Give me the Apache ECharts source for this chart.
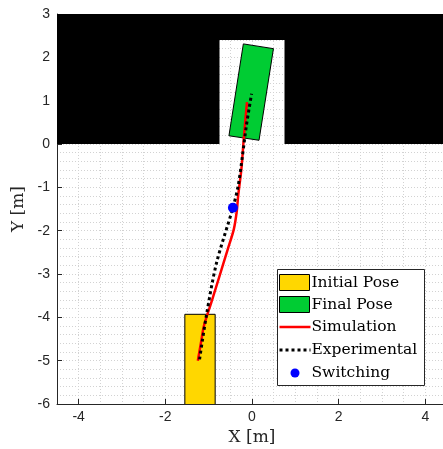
<!DOCTYPE html>
<html lang="en">
<head>
    <meta charset="UTF-8">
    <title>Trajectory</title>
    <script src="https://cdn.jsdelivr.net/npm/echarts@6.0.0/dist/echarts.min.js"></script>
    <style>
        html, body { margin: 0; padding: 0; background: #fff; }
    </style>
</head>
<body>
<div id="main" style="width:443px;height:449px;"></div>
    <script>

        // tick labels
        var xTicks = [-4, -2, 0, 2, 4];

        // obstacle (black area) outline
        var obstacle = [[-4.5, 0], [-0.75, 0], [-0.75, 2.4], [0.75, 2.4], [0.75, 0], [4.5, 0], [4.5, 3], [-4.5, 3]];

        // robot footprints
        var initialPose = [[-1.55, -3.93], [-0.85, -3.93], [-0.85, -6.08], [-1.55, -6.08]];
        var finalPose = [[-0.2, 2.31], [0.495, 2.2], [0.162, 0.086], [-0.532, 0.19]];

        // paths
        var simulation = [[-1.25, -5.0], [-1.18, -4.6], [-1.11, -4.2], [-0.94, -3.66], [-0.75, -3.05],
            [-0.56, -2.43], [-0.42, -1.97], [-0.35, -1.54], [-0.32, -1.2], [-0.245, -0.58],
            [-0.185, 0.19], [-0.115, 0.965]];
        var experimental = [[-1.21, -4.97], [-1.05, -3.94], [-0.82, -2.75], [-0.44, -1.47],
            [-0.32, -0.97], [-0.22, -0.27], [-0.13, 0.42], [-0.01, 1.16]];
        var switching = [[-0.44, -1.47]];

        var gridColor = '#d2d2d2';
        var textColor = '#262626';

        function polygon(name, pts, fill, stroke, z) {
            return {
                type: 'custom',
                name: name,
                z: z,
                clip: true,
                silent: true,
                data: [[0, 0]],
                renderItem: function (params, api) {
                    return {
                        type: 'polygon',
                        shape: { points: pts.map(function (p) { return api.coord(p); }) },
                        style: { fill: fill, stroke: stroke, lineWidth: stroke ? 1 : 0 }
                    };
                }
            };
        }

        var myChart = echarts.init(document.getElementById('main'));

        // legend drawn by hand (MATLAB style box)
        var lx = 279.5, rowY = [282.5, 304.5, 327, 350, 373];
        var legendFont = { fontFamily: 'DejaVu Serif', fontSize: 15.5, fill: '#000' };
        var names = ['Initial Pose', 'Final Pose', 'Simulation', 'Experimental', 'Switching'];
        var legend = [
            { type: 'rect', shape: { x: 277.5, y: 269.5, width: 147, height: 116 },
              style: { fill: '#fff', stroke: textColor, lineWidth: 1 }, z: 100 },
            { type: 'rect', shape: { x: lx, y: rowY[0] - 8, width: 30, height: 16 },
              style: { fill: '#FFD700', stroke: '#000', lineWidth: 1 }, z: 101 },
            { type: 'rect', shape: { x: lx, y: rowY[1] - 8, width: 30, height: 16 },
              style: { fill: '#00CC33', stroke: '#000', lineWidth: 1 }, z: 101 },
            { type: 'line', shape: { x1: lx, y1: rowY[2], x2: lx + 31, y2: rowY[2] },
              style: { stroke: '#FF0000', lineWidth: 2.5 }, z: 101 },
            { type: 'line', shape: { x1: lx, y1: rowY[3], x2: lx + 31, y2: rowY[3] },
              style: { stroke: '#000', lineWidth: 3, lineDash: [3, 3] }, z: 101 },
            { type: 'circle', shape: { cx: 295, cy: rowY[4], r: 4.5 },
              style: { fill: '#0000FF' }, z: 101 }
        ];
        for (var i = 0; i < names.length; i++) {
            legend.push({
                type: 'text', x: 311.5, y: rowY[i], z: 101,
                style: { text: names[i], fontFamily: legendFont.fontFamily, fontSize: legendFont.fontSize,
                         fill: legendFont.fill, verticalAlign: 'middle' }
            });
        }

        var option = {
            animation: false,
            grid: { left: 57, top: 14, width: 390, height: 390, containLabel: false, outerBoundsMode: 'none' },
            xAxis: [{
                type: 'value',
                min: -4.5,
                max: 4.5,
                interval: 0.5,
                name: 'X [m]',
                nameLocation: 'middle',
                nameGap: 24,
                nameTextStyle: { fontFamily: 'DejaVu Serif', fontSize: 17, color: textColor },
                axisLine: { onZero: false, lineStyle: { color: textColor, width: 1 } },
                axisTick: { inside: true, length: 5, customValues: xTicks, lineStyle: { color: textColor } },
                axisLabel: { customValues: xTicks, margin: 6, fontFamily: 'Liberation Sans', fontSize: 14, color: textColor },
                splitLine: { show: false }
            }, {
                // only the 0.5 grid
                type: 'value',
                position: 'top',
                min: -4.5,
                max: 4.5,
                interval: 0.5,
                axisLine: { show: false, onZero: false },
                axisTick: { show: false },
                axisLabel: { show: false },
                splitLine: { show: true, lineStyle: { color: gridColor, type: [1, 2], width: 1 } }
            }],
            yAxis: {
                type: 'value',
                min: -6,
                max: 3,
                interval: 1,
                name: 'Y [m]',
                nameLocation: 'middle',
                nameGap: 30,
                nameTextStyle: { fontFamily: 'DejaVu Serif', fontSize: 17, color: textColor },
                axisLine: { show: true, onZero: false, lineStyle: { color: textColor, width: 1 } },
                axisTick: { show: true, inside: true, length: 5, lineStyle: { color: textColor } },
                axisLabel: { margin: 7, padding: [7, 0, 0, 0], fontFamily: 'Liberation Sans', fontSize: 14, color: textColor },
                splitLine: { show: true, lineStyle: { color: gridColor, type: [1, 2], width: 1 } },
                minorTick: { show: false, splitNumber: 5 },
                minorSplitLine: { show: true, lineStyle: { color: gridColor, type: [1, 2], width: 1 } }
            },
            series: [
                polygon('Obstacle', obstacle, '#000', null, 2),
                polygon('Initial Pose', initialPose, '#FFD700', '#000', 3),
                polygon('Final Pose', finalPose, '#00CC33', '#000', 3),
                {
                    type: 'line',
                    name: 'Simulation',
                    z: 4,
                    data: simulation,
                    showSymbol: false,
                    smooth: 0.3,
                    lineStyle: { color: '#FF0000', width: 2.5 }
                },
                {
                    type: 'line',
                    name: 'Experimental',
                    z: 5,
                    data: experimental,
                    showSymbol: false,
                    smooth: 0.3,
                    lineStyle: { color: '#000', width: 3, type: [3, 3] }
                },
                {
                    type: 'scatter',
                    name: 'Switching',
                    z: 6,
                    data: switching,
                    symbolSize: 10,
                    itemStyle: { color: '#0000FF', opacity: 1 }
                }
            ],
            graphic: legend
        };

        myChart.setOption(option);

    </script>
</body>
</html>
